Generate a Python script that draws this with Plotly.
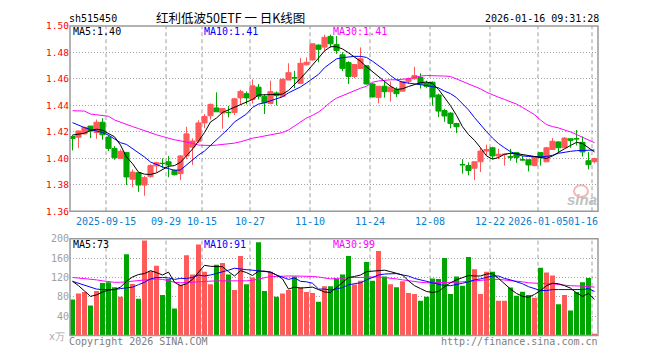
import plotly.graph_objects as go

# ---------------- data ----------------
opens = [1.4165,1.4160,1.4185,1.4244,1.4195,1.4273,1.4161,1.4075,1.3999,1.4045,
         1.3842,1.3891,1.3798,1.3862,1.3943,1.3963,1.3974,1.3908,1.3884,1.4018,
         1.4085,1.4129,1.4268,1.4322,1.4381,1.4342,1.4348,1.4347,1.4457,1.4489,
         1.4445,1.4538,1.4469,1.4415,1.4494,1.4469,1.4592,1.4610,1.4567,1.4707,
         1.4744,1.4856,1.4841,1.4922,1.4861,1.4783,1.4724,1.4619,1.4680,1.4700,
         1.4562,1.4459,1.4545,1.4504,1.4521,1.4508,1.4582,1.4602,1.4611,1.4570,
         1.4575,1.4479,1.4361,1.4342,1.4263,1.3953,1.3945,1.3925,1.3974,1.4055,
         1.4080,1.4018,1.4028,1.4013,1.4043,1.3990,1.3989,1.3945,1.4043,1.3974,
         1.4067,1.4124,1.4080,1.4148,1.4149,1.4121,1.3982,1.3975]
highs = [1.4175,1.4210,1.4240,1.4244,1.4293,1.4303,1.4175,1.4092,1.4067,1.4045,
         1.3916,1.3891,1.3867,1.3955,1.3974,1.3999,1.4018,1.3916,1.4023,1.4239,
         1.4151,1.4288,1.4335,1.4415,1.4499,1.4376,1.4396,1.4457,1.4518,1.4506,
         1.4597,1.4562,1.4482,1.4587,1.4506,1.4604,1.4719,1.4661,1.4758,1.4763,
         1.4866,1.4861,1.4935,1.4935,1.4925,1.4802,1.4734,1.4709,1.4839,1.4700,
         1.4570,1.4545,1.4582,1.4582,1.4538,1.4582,1.4611,1.4692,1.4643,1.4587,
         1.4582,1.4489,1.4374,1.4349,1.4268,1.3994,1.3969,1.3974,1.4080,1.4104,
         1.4087,1.4072,1.4031,1.4072,1.4048,1.4018,1.3989,1.4014,1.4048,1.4087,
         1.4153,1.4129,1.4161,1.4148,1.4214,1.4165,1.4048,1.4004]
lows = [1.4060,1.4077,1.4180,1.4153,1.4148,1.4141,1.4055,1.3989,1.3994,1.3798,
        1.3783,1.3747,1.3717,1.3852,1.3891,1.3925,1.3857,1.3871,1.3835,1.3994,
        1.3950,1.4116,1.4227,1.4293,1.4352,1.4224,1.4310,1.4327,1.4408,1.4408,
        1.4415,1.4445,1.4335,1.4408,1.4400,1.4464,1.4592,1.4531,1.4562,1.4702,
        1.4739,1.4726,1.4812,1.4837,1.4790,1.4660,1.4562,1.4606,1.4675,1.4557,
        1.4459,1.4415,1.4459,1.4428,1.4464,1.4508,1.4562,1.4594,1.4528,1.4533,
        1.4398,1.4312,1.4276,1.4227,1.4190,1.3884,1.3871,1.3835,1.3896,1.4018,
        1.3994,1.3994,1.3945,1.3982,1.3965,1.3982,1.3901,1.3940,1.3945,1.3974,
        1.4063,1.4048,1.4075,1.4080,1.4097,1.4014,1.3916,1.3962]
closes = [1.4150,1.4207,1.4234,1.4207,1.4273,1.4178,1.4075,1.4004,1.4053,1.3859,
          1.3896,1.3798,1.3854,1.3945,1.3967,1.3961,1.3950,1.3876,1.4018,1.4185,
          1.4131,1.4268,1.4317,1.4408,1.4352,1.4376,1.4346,1.4450,1.4506,1.4457,
          1.4548,1.4469,1.4420,1.4504,1.4474,1.4597,1.4648,1.4608,1.4719,1.4726,
          1.4866,1.4824,1.4915,1.4866,1.4815,1.4680,1.4619,1.4709,1.4753,1.4562,
          1.4464,1.4545,1.4504,1.4538,1.4489,1.4582,1.4602,1.4626,1.4562,1.4545,
          1.4464,1.4357,1.4320,1.4263,1.4239,1.3951,1.3908,1.3974,1.4055,1.4067,
          1.4018,1.4031,1.4031,1.4009,1.4006,1.3988,1.3950,1.4014,1.4006,1.4080,
          1.4129,1.4080,1.4153,1.4136,1.4147,1.4048,1.3952,1.3999]

ma5 = [1.4176,1.4182,1.4190,1.4210,1.4220,1.4212,1.4190,1.4163,1.4100,1.4010,
       1.3960,1.3895,1.3880,1.3878,1.3890,1.3915,1.3940,1.3945,1.3970,1.4020,
       1.4070,1.4130,1.4195,1.4275,1.4305,1.4347,1.4366,1.4391,1.4408,1.4425,
       1.4445,1.4479,1.4482,1.4482,1.4482,1.4486,1.4513,1.4555,1.4604,1.4653,
       1.4702,1.4758,1.4812,1.4844,1.4844,1.4827,1.4798,1.4766,1.4734,1.4692,
       1.4655,1.4619,1.4582,1.4545,1.4521,1.4526,1.4543,1.4557,1.4572,1.4577,
       1.4567,1.4521,1.4464,1.4398,1.4325,1.4239,1.4180,1.4136,1.4080,1.4018,
       1.3994,1.4006,1.4031,1.4038,1.4036,1.4028,1.4018,1.4011,1.4004,1.3999,
       1.4018,1.4048,1.4072,1.4097,1.4121,1.4112,1.4080,1.4048]
ma10 = [1.4270,1.4250,1.4232,1.4218,1.4208,1.4196,1.4175,1.4148,1.4118,1.4105,
        1.4075,1.4045,1.4010,1.3972,1.3952,1.3935,1.3922,1.3910,1.3912,1.3950,
        1.3985,1.4025,1.4055,1.4097,1.4141,1.4183,1.4225,1.4275,1.4305,1.4335,
        1.4385,1.4410,1.4420,1.4435,1.4448,1.4465,1.4495,1.4515,1.4540,1.4570,
        1.4600,1.4635,1.4685,1.4722,1.4752,1.4761,1.4768,1.4771,1.4771,1.4763,
        1.4734,1.4704,1.4668,1.4626,1.4594,1.4575,1.4570,1.4567,1.4557,1.4550,
        1.4543,1.4533,1.4508,1.4489,1.4459,1.4410,1.4366,1.4308,1.4251,1.4202,
        1.4153,1.4112,1.4080,1.4050,1.4031,1.4018,1.4014,1.4011,1.4011,1.4014,
        1.4023,1.4038,1.4048,1.4053,1.4058,1.4060,1.4063,1.4063]
ma30 = [1.4360,1.4359,1.4357,1.4335,1.4330,1.4328,1.4318,1.4290,1.4272,1.4255,
        1.4240,1.4225,1.4208,1.4192,1.4178,1.4165,1.4152,1.4140,1.4132,1.4125,
        1.4114,1.4100,1.4097,1.4097,1.4100,1.4104,1.4108,1.4115,1.4125,1.4140,
        1.4152,1.4160,1.4168,1.4175,1.4182,1.4195,1.4214,1.4245,1.4278,1.4305,
        1.4325,1.4350,1.4385,1.4425,1.4455,1.4475,1.4496,1.4512,1.4530,1.4545,
        1.4575,1.4585,1.4592,1.4594,1.4594,1.4596,1.4602,1.4612,1.4622,1.4626,
        1.4626,1.4624,1.4622,1.4619,1.4600,1.4580,1.4565,1.4545,1.4525,1.4500,
        1.4479,1.4462,1.4445,1.4428,1.4410,1.4385,1.4360,1.4330,1.4290,1.4255,
        1.4240,1.4230,1.4214,1.4200,1.4180,1.4160,1.4140,1.4118]

volume = [74.7,86.7,90,62,92,108.7,110,100,80,168,
          106.7,76,196,133,144,84,116.7,56,105,166,
          126,188,132,106,146,150,126,94,164,106,
          120,192.7,92,132,80,86.7,94,122,100,90,
          88,70,102,102,116.7,126,164,105.3,113.3,152,
          113.3,174.7,122,106,100,112,88,86,72,80,
          118,116.7,160,86,122,103,162,136.7,86,132,
          132,72,72,99.3,82,90.7,84,78,140,130,
          124,64.7,84,52,90,110,118.7,4]
vma5 = [112,103,92,81,84,90,94,95,100,112,
        121,126,128,134,130,125,131,110,103,107,
        116,130,145,143,142,142,132,123,134,130,
        124,133,133,131,125,117,96,100,98,99,
        100,95,90,89,100,110,120,122,125,132,
        133,135,135,132,128,125,113,103,97,91,
        89,91,101,109,115,119,124,123,123,127,
        128,118,106,96,87,81,79,85,93,103,
        108,107,103,98,88,81,87,75]
vma10 = [112,108,105,100,96,95,95,95,97,99,
         100,105,110,117,120,120,119,116,118,118,
         120,125,123,125,128,132,135,139,137,136,
         135,134,132,131,125,120,116,119,112,111,
         108,96,96,94,96,99,105,107,109,115,
         120,125,127,128,128,125,123,118,115,111,
         108,105,103,103,105,108,111,115,117,120,
         123,123,118,115,111,107,101,97,93,93,
         95,95,95,95,94,95,97,91]
vma30 = [120,119,118,117,115,113,111,110,110,111,
         112,113,115,116,117,116,113,110,109,109,
         110,111,112,113,113,113,113,113,112,113,
         114,117,120,122,122,123,123,123,123,123,
         122,121,119,117,118,119,120,120,120,121,
         121,121,120,119,117,115,113,111,110,109,
         109,109,109,109,110,111,112,113,115,116,
         116,116,115,113,112,111,109,108,108,107,
         107,105,104,103,103,102,101,100]

date_labels = ["2025-09-15", "09-29", "10-15", "10-27", "11-10", "11-24",
               "12-08", "12-22", "2026-01-05", "01-16"]
date_index = [6, 16, 22, 30, 40, 50, 60, 70, 78, 87]
price_ticks = [1.36, 1.38, 1.40, 1.42, 1.44, 1.46, 1.48, 1.50]
vol_ticks = [40, 80, 120, 160, 200]

# ---------------- styling ----------------
W, H = 660, 360
RED = "#FF5A5A"
GREEN = "#00A600"
GRID = "#A0A0A0"
MONO = "DejaVu Sans Mono"
n = len(closes)
idx = list(range(n))
X0 = -0.4167
XR = [X0, X0 + n]

def px(x):
    return x / W

def py(y):
    return 1 - y / H

P_TOP, P_BOT = 20.7, 211.7
V_TOP, V_BOT = 240, 340
L, R = 70, 598

fig = go.Figure()

fig.add_trace(go.Candlestick(
    x=idx, open=opens, high=highs, low=lows, close=closes,
    increasing=dict(line=dict(color=RED, width=1), fillcolor=RED),
    decreasing=dict(line=dict(color=GREEN, width=1), fillcolor=GREEN),
    whiskerwidth=0, xaxis="x", yaxis="y", hoverinfo="skip", showlegend=False))

for arr, col in [(ma30, "#FF00FF"), (ma10, "#0000FF"), (ma5, "#000000")]:
    fig.add_trace(go.Scatter(x=idx, y=arr, mode="lines", line=dict(color=col, width=1),
                             xaxis="x", yaxis="y", hoverinfo="skip", showlegend=False))

bar_colors = [RED if c >= o else GREEN for o, c in zip(opens, closes)]
fig.add_trace(go.Bar(x=idx, y=volume, marker=dict(color=bar_colors, line=dict(width=0)),
                     width=0.83, xaxis="x2", yaxis="y2", hoverinfo="skip", showlegend=False))
for arr, col in [(vma30, "#FF00FF"), (vma10, "#0000FF"), (vma5, "#000000")]:
    fig.add_trace(go.Scatter(x=idx, y=arr, mode="lines", line=dict(color=col, width=1),
                             xaxis="x2", yaxis="y2", hoverinfo="skip", showlegend=False))

shapes = []
for i in date_index:
    for xr, yr in [("x", "y domain"), ("x2", "y2 domain")]:
        shapes.append(dict(type="line", xref=xr, yref=yr,
                           x0=i + X0, x1=i + X0, y0=0, y1=1,
                           line=dict(color=GRID, width=1, dash="4px,3px"), layer="below"))
for top, bot in [(P_TOP, P_BOT), (V_TOP, V_BOT)]:
    shapes.append(dict(type="rect", xref="paper", yref="paper",
                       x0=px(L), x1=px(R), y0=py(bot), y1=py(top),
                       line=dict(color="#9A9A9A", width=1.5)))
# sina watermark ring
shapes.append(dict(type="circle", xref="paper", yref="paper",
                   x0=px(574), x1=px(588), y0=py(197), y1=py(185),
                   line=dict(color="rgba(235,120,120,0.55)", width=2)))

ann = []
def text(x, y, s, color="#000", size=10, anchor="left", family=MONO, **kw):
    ann.append(dict(x=px(x), y=py(y), xref="paper", yref="paper", text=s, showarrow=False,
                    xanchor=anchor, yanchor="middle", borderpad=0,
                    font=dict(family=family, size=size, color=color), **kw))

text(68, 12.5, "sh515450", size=10)
text(230, 12, "红利低波50ETF 一 日K线图", size=12.5, anchor="center",
     family="Noto Sans CJK SC")
text(600, 12.5, "2026-01-16 09:31:28", size=10, anchor="right")
text(72, 26.5, "MA5:1.40")
text(203, 26.5, "MA10:1.41", color="#0000FF")
text(332, 26.5, "MA30:1.41", color="#FF00FF")
text(72, 246, "MA5:73")
text(203, 246, "MA10:91", color="#0000FF")
text(332, 246, "MA30:99", color="#FF00FF")
for lab, i in zip(date_labels, date_index):
    xp = L + 6 * i
    if i == date_index[-1]:
        text(R + 1, 222, lab, color="#0A7FD0", anchor="right")
    else:
        text(xp, 222, lab, color="#0A7FD0", anchor="center")
text(66, 341, "x万", color="#A8A8A8", anchor="right", size=10)
text(68, 346.5, "Copyright 2026 SINA.COM", color="#808080")
text(599, 346.5, "http://finance.sina.com.cn", color="#808080", anchor="right")
text(582, 200, "<b><i>sina</i></b>", color="rgba(175,175,175,0.8)", size=15,
     anchor="center", family="Liberation Sans")

fig.update_layout(
    width=W, height=H, margin=dict(l=0, r=0, t=0, b=0),
    paper_bgcolor="white", plot_bgcolor="white",
    boxgap=0.15, boxgroupgap=0, barmode="overlay",
    xaxis=dict(domain=[px(L), px(R)], range=XR, anchor="y", showticklabels=False,
               showgrid=False, zeroline=False, rangeslider=dict(visible=False),
               fixedrange=True),
    xaxis2=dict(domain=[px(L), px(R)], range=XR, anchor="y2", matches="x",
                showticklabels=False, showgrid=False, zeroline=False, fixedrange=True),
    yaxis=dict(domain=[py(P_BOT), py(P_TOP)], range=[1.36, 1.50], anchor="x",
               tickvals=price_ticks, ticktext=["%.2f" % v for v in price_ticks],
               tickfont=dict(family=MONO, size=9.5, color="#FF0000"),
               showgrid=True, gridcolor=GRID, griddash="1px,2px", gridwidth=1,
               zeroline=False, ticks="", fixedrange=True),
    yaxis2=dict(domain=[py(V_BOT), py(V_TOP)], range=[0, 200], anchor="x2",
                tickvals=vol_ticks, ticktext=[str(v) for v in vol_ticks],
                tickfont=dict(family=MONO, size=10, color="#A0A0A0"),
                showgrid=True, gridcolor=GRID, griddash="1px,2px", gridwidth=1,
                zeroline=False, ticks="", fixedrange=True),
    shapes=shapes, annotations=ann,
)

fig.write_html(
    "out.html",
    config={"displayModeBar": False, "staticPlot": True},
    post_script="document.body.style.margin='0px';document.body.style.padding='0px';"
                "document.documentElement.style.margin='0px';",
)
